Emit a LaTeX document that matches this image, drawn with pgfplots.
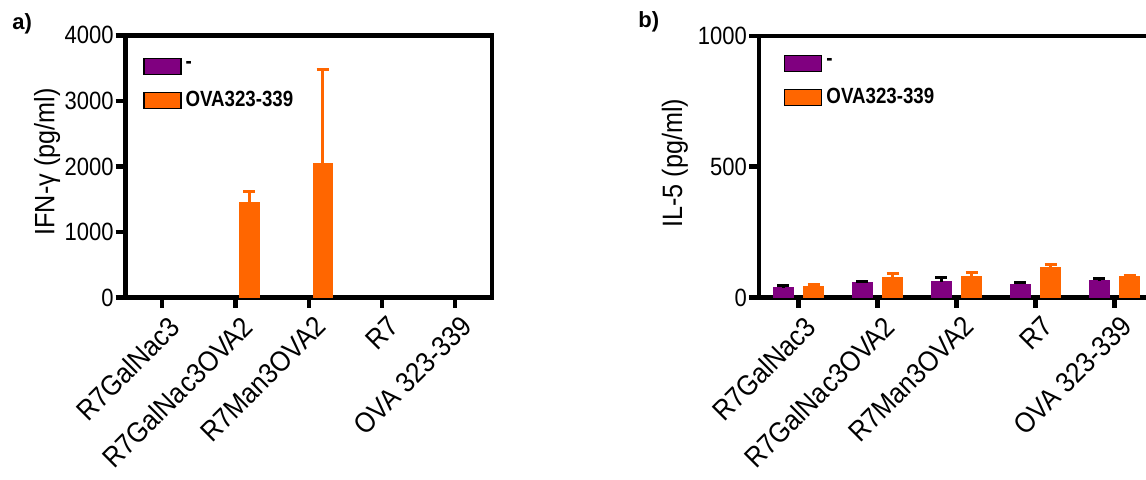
\documentclass[border=0pt]{standalone}
\usepackage{fontspec}
\setmainfont{Liberation Sans}
\usepackage{graphicx}
\usepackage{pgfplots}
\pgfplotsset{compat=1.18}
\definecolor{mypurple}{RGB}{128,0,128}
\definecolor{myorange}{RGB}{255,102,0}
\newcommand{\legtext}[1]{\scalebox{0.85}[1]{#1}}
\newcommand{\xl}[1]{\scalebox{0.9}[1]{#1}}
\pgfplotsset{
  panel/.style={
    scale only axis,
    ybar, bar width=0.26,
    xmin=-0.5, xmax=4.5, ymin=0,
    xtick={0,...,4},
    xticklabels={\xl{R7GalNac3},\xl{R7GalNac3OVA2},\xl{R7Man3OVA2},\xl{R7},\xl{OVA 323-339}},
    xtick pos=bottom, ytick pos=left, tick align=outside,
    axis line style={line width=2.2pt},
    major tick style={line width=2.2pt, black},
    major tick length=5pt,
    minor tick num=0,
    /pgf/number format/assume math mode=true,
    /pgf/number format/1000 sep={},
    yticklabel style={font=\fontsize{12.5}{14}\selectfont, inner sep=1pt, xscale=0.88},
    xticklabel style={font=\fontsize{14.2}{16}\selectfont, rotate=45, anchor=north east, inner sep=0.5pt, yshift=-3.5pt},
    ylabel style={font=\fontsize{14}{16}\selectfont, anchor=center},
    legend cell align=left,
    legend style={draw=none, fill=none, font=\bfseries\fontsize{11}{12}\selectfont, anchor=north west, inner sep=0pt, row sep=6pt},
    clip=false,
  },
  purplebar/.style={fill=mypurple, draw=mypurple, bar shift=-0.19, forget plot,
    error bars/.cd, y dir=plus, y explicit,
    error bar style={line width=1.5pt, draw=black},
    error mark options={rotate=90, line width=1.5pt, mark size=3pt, draw=black}},
  orangebar/.style={fill=myorange, draw=myorange, bar shift=0.19, forget plot,
    error bars/.cd, y dir=plus, y explicit,
    error bar style={line width=1.5pt, draw=myorange},
    error mark options={rotate=90, line width=1.5pt, mark size=3pt, draw=myorange}},
}
\begin{document}
\begin{tikzpicture}
\begin{axis}[panel,
  at={(62.85pt,-148.75pt)}, anchor=south west,
  width=183pt, height=131.1pt,
  ymax=4000, ytick={0,1000,2000,3000,4000},
  ylabel={\scalebox{0.9}[1]{IFN-γ (pg/ml)}},
  ylabel style={at={(axis description cs:-0.215,0.517)}},
  legend style={at={(axis description cs:0.047,0.917)}},
]
\addplot[orangebar] coordinates {(1,1446) +- (0,171) (2,2052) +- (0,1419)};
\addlegendimage{legend image code/.code={\draw[fill=mypurple,draw=black,line width=0.6pt] (0pt,-4pt) rectangle (18.5pt,4pt);}}
\addlegendentry{\legtext{-}}
\addlegendimage{legend image code/.code={\draw[fill=myorange,draw=black,line width=0.6pt] (0pt,-4pt) rectangle (18.5pt,4pt);}}
\addlegendentry{\legtext{OVA323-339}}
\end{axis}
\begin{axis}[panel,
  at={(379.5pt,-148.75pt)}, anchor=south west,
  width=197.5pt, height=130.85pt,
  ymax=1000, ytick={0,500,1000},
  ylabel={\scalebox{0.9}[1]{IL-5 (pg/ml)}},
  ylabel style={at={(axis description cs:-0.213,0.514)}},
  legend style={at={(axis description cs:0.063,0.93)}},
]
\addplot[purplebar] coordinates {(0,38) +- (0,8) (1,57) +- (0,6) (2,61) +- (0,16) (3,50) +- (0,7) (4,65) +- (0,8)};
\addplot[orangebar] coordinates {(0,42) +- (0,6) (1,77) +- (0,13) (2,80) +- (0,14) (3,115) +- (0,11) (4,80) +- (0,6)};
\addlegendimage{legend image code/.code={\draw[fill=mypurple,draw=black,line width=0.6pt] (0pt,-4pt) rectangle (18.5pt,4pt);}}
\addlegendentry{\legtext{-}}
\addlegendimage{legend image code/.code={\draw[fill=myorange,draw=black,line width=0.6pt] (0pt,-4pt) rectangle (18.5pt,4pt);}}
\addlegendentry{\legtext{OVA323-339}}
\end{axis}
\node[anchor=west, font=\bfseries\fontsize{11}{12}\selectfont, inner sep=0pt] at (6pt,-12pt) {a)};
\node[anchor=west, font=\bfseries\fontsize{11}{12}\selectfont, inner sep=0pt] at (319pt,-11pt) {b)};
\pgfresetboundingbox
\useasboundingbox (0,0) rectangle (573pt,-239.5pt);
\end{tikzpicture}
\end{document}
